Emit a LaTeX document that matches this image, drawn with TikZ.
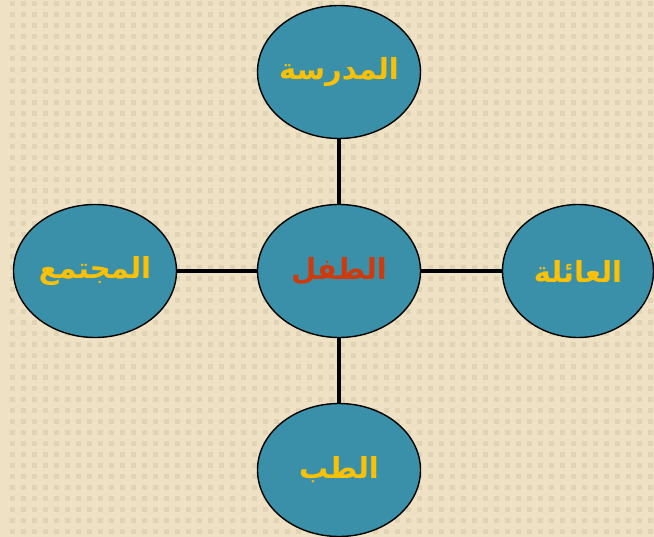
\documentclass[tikz,border=0pt]{standalone}
\usepackage{fontspec}
\newfontfamily\arabicfont[Script=Arabic,BoldFont={DejaVu Sans Bold}]{DejaVu Sans}
\TeXXeTstate=1
\usepackage{tikz}
\usetikzlibrary{shapes.geometric}

\definecolor{paper}{HTML}{EFE2C4}
\definecolor{speck}{HTML}{E1D4B5}
\definecolor{bubble}{HTML}{3A90A8}
\definecolor{gold}{HTML}{FFC000}
\definecolor{rust}{HTML}{D03A0A}

\tikzset{
  topic/.style={ellipse, draw=black, line width=1.4pt, fill=bubble, minimum width=163pt,
    minimum height=133pt, inner sep=-25pt, text=gold,
    font=\arabicfont\bfseries\fontsize{29}{33}\selectfont},
  link/.style={line width=4.5pt}
}

\begin{document}
\begin{tikzpicture}[x=1pt,y=-1pt]
\useasboundingbox (0,0) rectangle (654,537);
\clip (0,0) rectangle (654,537);

% background
\fill[paper] (0,0) rectangle (654,537);
\foreach \i in {0,...,59}
  \foreach \j in {0,...,48}
    \fill[speck] (10+11*\i,1+11*\j) rectangle ++(5,5);

% ellipses
\node[topic, text=rust] (child) at (339,271) {\beginR الطفل\endR};
\node[topic] (school) at (339,72) {\beginR المدرسة\endR};
\node[topic] (society) at (95,271) {\beginR المجتمع\endR};
\node[topic, minimum width=151pt] (family) at (578,271) {\beginR العائلة\endR};
\node[topic] (medicine) at (339,470) {\beginR الطب\endR};

% connectors
\draw[link] (school) -- (child);
\draw[link] (child) -- (medicine);
\draw[link] (society) -- (child);
\draw[link] (child) -- (family);

\end{tikzpicture}
\end{document}
